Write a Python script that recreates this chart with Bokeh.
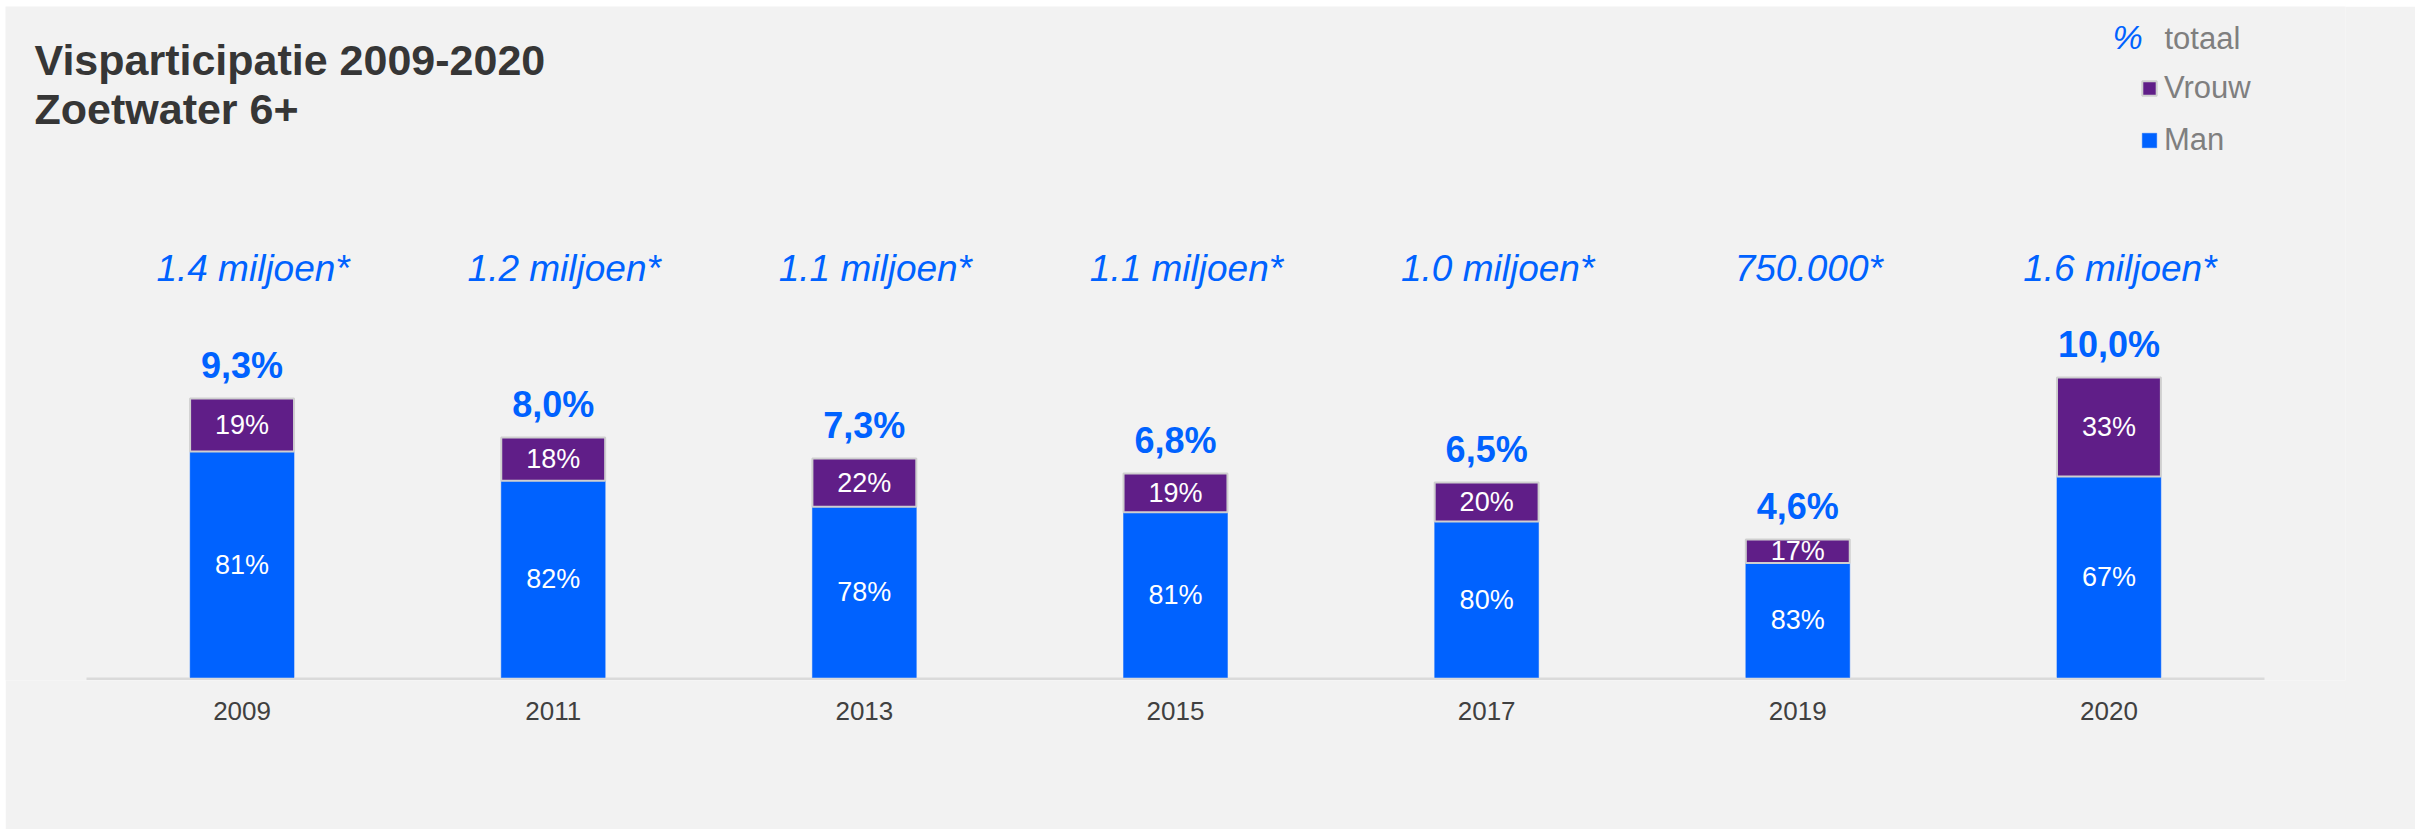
from bokeh.plotting import figure
from bokeh.models import ColumnDataSource, FactorRange, Range1d, Label, Legend, LegendItem
from bokeh.core.properties import value
from bokeh.embed import file_html
from bokeh.resources import INLINE

# ---- data ----
years = ["2009", "2011", "2013", "2015", "2017", "2019", "2020"]
totaal = [9.3, 8.0, 7.3, 6.8, 6.5, 4.6, 10.0]
vrouw_pct = [19, 18, 22, 19, 20, 17, 33]
man_pct = [81, 82, 78, 81, 80, 83, 67]
deelnemers = ["1.4 miljoen*", "1.2 miljoen*", "1.1 miljoen*", "1.1 miljoen*",
              "1.0 miljoen*", "750.000*", "1.6 miljoen*"]
totaal_labels = ["9,3%", "8,0%", "7,3%", "6,8%", "6,5%", "4,6%", "10,0%"]

# ---- style ----
BLUE = "#0062ff"
PURPLE = "#601e88"
BG = "#f2f2f2"
FONT = "Liberation Sans"
W, H = 2410, 823
FB = 149                      # bottom border (axis)
FR = 70                       # right border
PX_PER_UNIT = 30.0
CAT_PX = 311.14               # width of one category in px
PAD = 81.0 / CAT_PX           # range padding in factor units
frame_h = H - FB
y0 = -0.1
y_top = y0 + frame_h / PX_PER_UNIT

man_h = [t * m / 100 for t, m in zip(totaal, man_pct)]
vrouw_h = [t * v / 100 for t, v in zip(totaal, vrouw_pct)]

src = ColumnDataSource(dict(
    year=years,
    man=man_h,
    vrouw=vrouw_h,
    totaal=totaal,
    man_mid=[m / 2 for m in man_h],
    vrouw_mid=[m + v / 2 for m, v in zip(man_h, vrouw_h)],
    man_lbl=[f"{m}%" for m in man_pct],
    vrouw_lbl=[f"{v}%" for v in vrouw_pct],
    tot_lbl=totaal_labels,
    deel=deelnemers,
))

xr = FactorRange(*years, range_padding=PAD, range_padding_units="absolute")
p = figure(x_range=xr, y_range=Range1d(y0, y_top),
           width=W, height=H, output_backend="svg", toolbar_location=None,
           min_border_left=0, min_border_right=FR, min_border_bottom=FB,
           min_border_top=0)
p.margin = (6, 5, 2, 5)
p.background_fill_color = BG
p.border_fill_color = BG
p.outline_line_color = None
p.xgrid.visible = False
p.ygrid.visible = False
p.yaxis.visible = False

ax = p.xaxis[0]
ax.axis_line_color = None
ax.major_tick_line_color = None
ax.minor_tick_line_color = None
ax.major_label_text_font = FONT
ax.major_label_text_font_size = "26px"
ax.major_label_text_color = "#404040"
ax.major_label_standoff = 15

# baseline spanning the categories
p.segment(x0=[(years[0], -0.5)], y0=[-0.04], x1=[(years[-1], 0.5)], y1=[-0.04],
          line_color="#dadada", line_width=2.5)

rs = p.vbar_stack(["man", "vrouw"], x="year", width=0.334, source=src,
                  fill_color=[BLUE, PURPLE],
                  line_color=[BLUE, "#cfcfcf"], line_width=[0.5, 2])

# segment labels
p.text(x="year", y="man_mid", text="man_lbl", source=src,
       text_font=value(FONT), text_font_size="27px", text_color="white",
       text_align="center", text_baseline="middle")
p.text(x="year", y="vrouw_mid", text="vrouw_lbl", source=src,
       text_font=value(FONT), text_font_size="27px", text_color="white",
       text_align="center", text_baseline="middle")

# total labels
p.text(x="year", y="totaal", text="tot_lbl", source=src, y_offset=-33,
       text_font=value(FONT), text_font_size="36px", text_font_style="bold",
       text_color=BLUE, text_align="center", text_baseline="middle")

# participant counts
p.text(x="year", y=13.62, text="deel", source=src, x_offset=11,
       text_font=value(FONT), text_font_size="37px", text_font_style="italic",
       text_color=BLUE, text_align="center", text_baseline="middle")

# title
for txt, yy in [("Visparticipatie 2009-2020", 620.5), ("Zoetwater 6+", 572)]:
    p.add_layout(Label(x=29, y=yy, x_units="screen", y_units="screen", text=txt,
                       text_font=FONT, text_font_size="43px", text_font_style="bold",
                       text_color="#363636", text_baseline="middle"))

# legend header
p.add_layout(Label(x=2107, y=644, x_units="screen", y_units="screen", text="%",
                   text_font=FONT, text_font_size="34px", text_font_style="italic",
                   text_color=BLUE, text_baseline="middle"))
p.add_layout(Label(x=2159, y=642, x_units="screen", y_units="screen", text="totaal",
                   text_font=FONT, text_font_size="31px",
                   text_color="#7f7f7f", text_baseline="middle"))

legend = Legend(items=[LegendItem(label="Vrouw", renderers=[rs[1]]),
                       LegendItem(label="Man", renderers=[rs[0]])],
                location=(2135, 522), orientation="vertical",
                glyph_width=18, glyph_height=18, label_standoff=6,
                label_height=36, spacing=16, padding=0, margin=0,
                label_text_font=FONT, label_text_font_size="31px",
                label_text_color="#7f7f7f",
                background_fill_alpha=0, border_line_alpha=0)
p.add_layout(legend)

open("out.html", "w").write(file_html(p, INLINE))
